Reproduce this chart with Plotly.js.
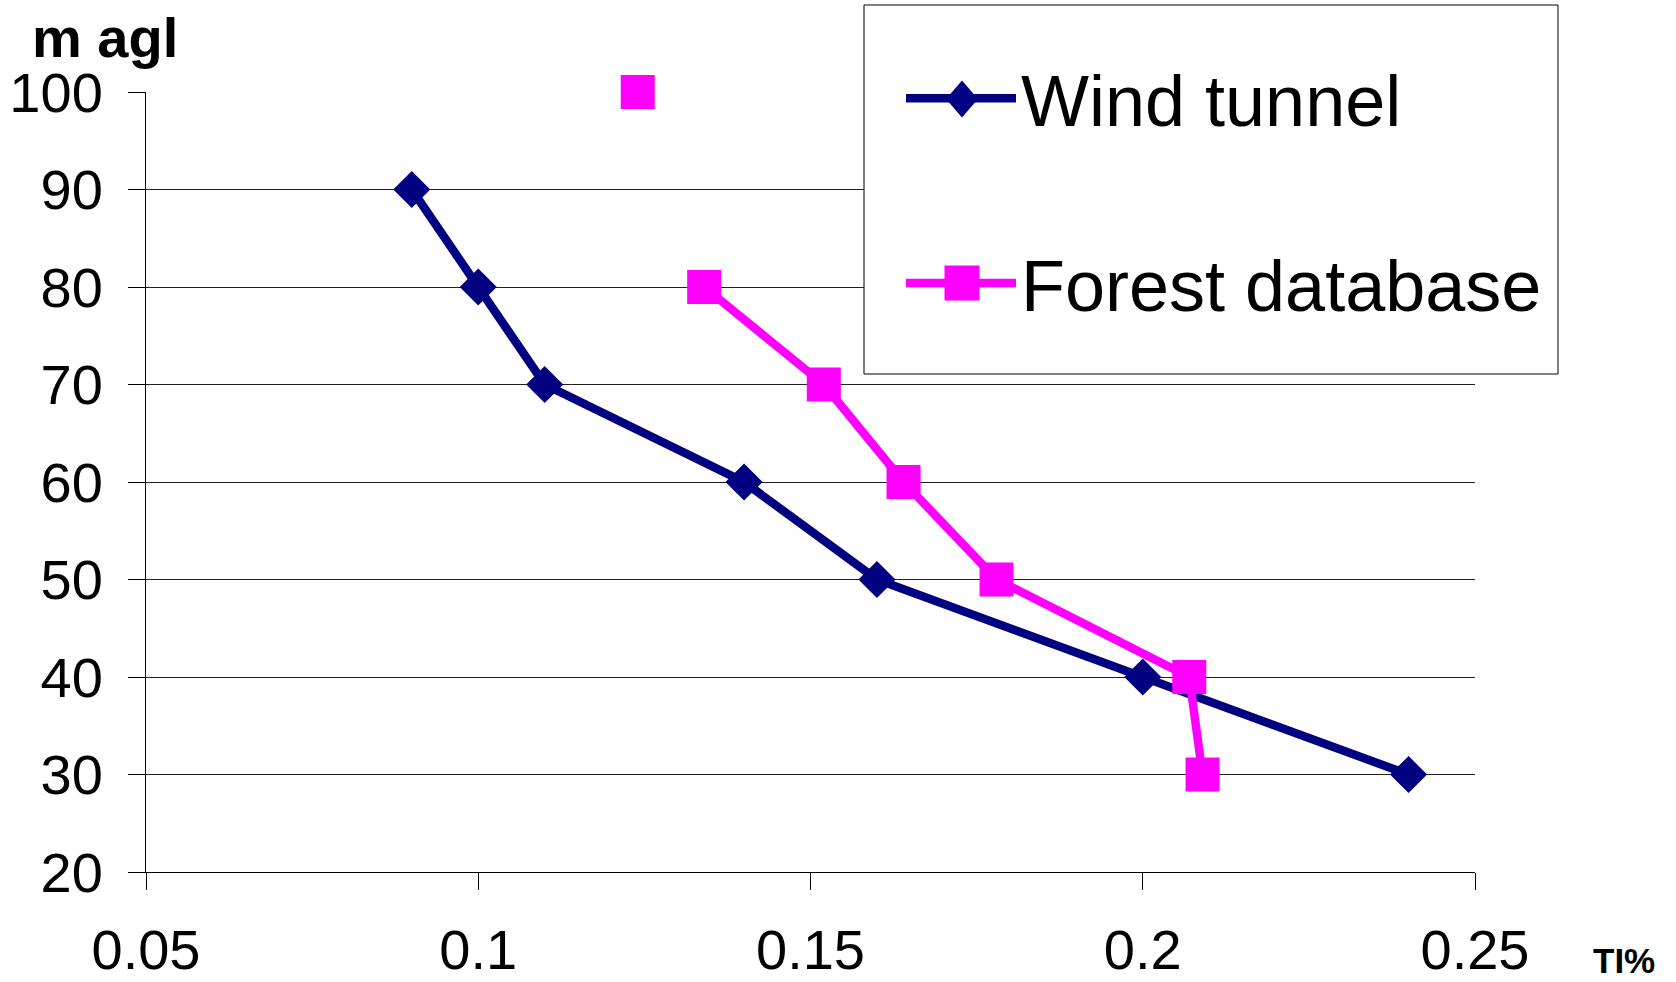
<!DOCTYPE html>
<html>
<head>
<meta charset="utf-8">
<script src="https://cdn.plot.ly/plotly-3.0.1.min.js"></script>
<style>
html,body{margin:0;padding:0;background:#fff;}
#chart{width:1676px;height:982px;}
</style>
</head>
<body>
<div id="chart"></div>
<script>
// Data
const heights = [100, 90, 80, 70, 60, 50, 40, 30];
const windTunnelTI = [null, 0.09, 0.10, 0.11, 0.14, 0.16, 0.20, 0.24];
const forestTI = [0.124, null, 0.134, 0.152, 0.164, 0.178, 0.207, 0.209];
const seriesNames = ['Wind tunnel', 'Forest database'];
const xTicks = [0.05, 0.1, 0.15, 0.2, 0.25];
const yTicks = [20, 30, 40, 50, 60, 70, 80, 90, 100];

const FONT = 'Liberation Sans, Arial, sans-serif';
const NAVY = '#000080', MAGENTA = '#FF00FF';

const W = 1676, H = 982;
const mL = 146, mR = 201, mT = 92, mB = 110;
const pw = W - mL - mR, ph = H - mT - mB;
const px = v => (v - mL) / pw;
const py = v => (H - mB - v) / ph;

const traces = [
  {
    x: windTunnelTI, y: heights, name: seriesNames[0],
    type: 'scatter', mode: 'lines+markers', connectgaps: false,
    line: {color: NAVY, width: 8.5},
    marker: {symbol: 'diamond', size: 28.5, color: NAVY},
    cliponaxis: false, legendgroup: 'a'
  },
  {
    x: forestTI, y: heights, name: seriesNames[1],
    type: 'scatter', mode: 'lines+markers', connectgaps: false,
    line: {color: MAGENTA, width: 8.5},
    marker: {symbol: 'square', size: 34, color: MAGENTA},
    cliponaxis: false, legendgroup: 'b'
  }
];

// legend glyph helpers (decoration of the legend box only)
const LGX = 962, LG1 = 99, LG2 = 283;
function diamondPath(cx, cy, hw, hh) {
  return 'M' + px(cx - hw) + ',' + py(cy) + ' L' + px(cx) + ',' + py(cy - hh) +
         ' L' + px(cx + hw) + ',' + py(cy) + ' L' + px(cx) + ',' + py(cy + hh) + ' Z';
}

const layout = {
  width: W, height: H,
  margin: {l: mL, r: mR, t: mT, b: mB, pad: 0},
  paper_bgcolor: '#fff', plot_bgcolor: '#fff',
  font: {family: FONT, color: '#000'},
  showlegend: true,
  xaxis: {
    range: [0.05, 0.25], tickvals: xTicks, ticktext: xTicks.map(String),
    showgrid: false, zeroline: false,
    showline: true, linecolor: '#000', linewidth: 1,
    ticks: 'outside', ticklen: 17, tickcolor: '#000', tickwidth: 1,
    tickfont: {size: 56, family: FONT, color: '#000'},
    ticklabelstandoff: 12
  },
  yaxis: {
    range: [20, 100], tickvals: yTicks,
    showgrid: true, gridcolor: '#222', gridwidth: 1, zeroline: false,
    showline: true, linecolor: '#000', linewidth: 1,
    ticks: 'outside', ticklen: 17, tickcolor: '#000', tickwidth: 1,
    tickfont: {size: 56, family: FONT, color: '#000'},
    ticklabelstandoff: 14
  },
  legend: {
    x: px(901), y: py(45), xanchor: 'left', yanchor: 'top',
    bgcolor: 'rgba(0,0,0,0)', borderwidth: 0,
    font: {size: 72, family: FONT, color: '#000'},
    itemwidth: 110, tracegroupgap: 88, traceorder: 'grouped'
  },
  shapes: [
    {type: 'rect', xref: 'paper', yref: 'paper',
     x0: px(864), x1: px(1558), y0: py(374), y1: py(5),
     line: {color: '#000', width: 1}, fillcolor: '#fff', layer: 'above'},
    {type: 'path', xref: 'paper', yref: 'paper', layer: 'above',
     path: diamondPath(LGX, LG1, 16, 18.5),
     fillcolor: NAVY, line: {width: 0}},
    {type: 'rect', xref: 'paper', yref: 'paper', layer: 'above',
     x0: px(LGX - 17.5), x1: px(LGX + 17.5), y0: py(LG2 + 17.5), y1: py(LG2 - 17.5),
     fillcolor: MAGENTA, line: {width: 0}}
  ],
  annotations: [
    {text: '<b>m agl</b>', xref: 'paper', yref: 'paper',
     x: px(30), y: py(37), xanchor: 'left', yanchor: 'middle',
     showarrow: false, font: {size: 56, family: FONT, color: '#000'}},
    {text: '<b>TI%</b>', xref: 'paper', yref: 'paper',
     x: px(1624), y: py(981), xanchor: 'center', yanchor: 'bottom',
     borderpad: 0,
     showarrow: false, font: {size: 35, family: FONT, color: '#000'}}
  ]
};

Plotly.newPlot('chart', traces, layout, {displayModeBar: false, staticPlot: true});
</script>
</body>
</html>
